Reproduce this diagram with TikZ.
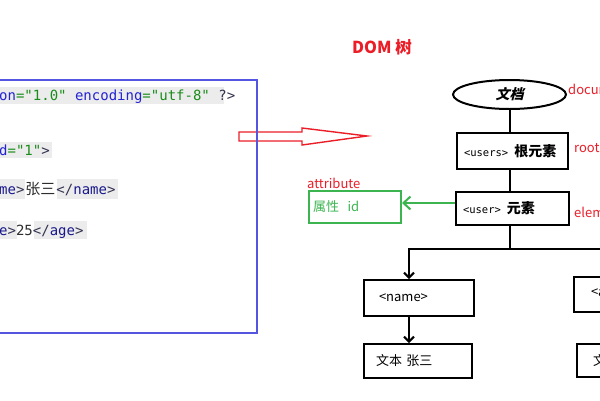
\documentclass[tikz,border=0pt]{standalone}
\usepackage{fontspec}
\setmainfont{Noto Sans CJK SC}
\newfontfamily\cjk{Noto Sans CJK SC}
\newfontfamily\cjkslant{Noto Sans CJK SC}[FakeSlant=0.25]
\newfontfamily\codefont{DejaVu Sans Mono}
\usetikzlibrary{shapes.geometric,arrows.meta}
\definecolor{xattr}{RGB}{35,35,210}
\definecolor{xval}{RGB}{25,140,25}
\definecolor{xtag}{RGB}{25,25,140}
\definecolor{xbrk}{RGB}{50,50,80}
\definecolor{xtxt}{RGB}{45,45,45}
\definecolor{xbg}{RGB}{236,236,236}
\definecolor{redc}{RGB}{235,30,40}
\definecolor{greenc}{RGB}{60,180,80}
\definecolor{bluec}{RGB}{85,85,225}
\newcommand{\fs}[1]{\fontsize{#1}{#1}\selectfont}
\begin{document}
\begin{tikzpicture}[x=1pt,y=-1pt,
  code/.style={inner sep=0, anchor=base west, font=\codefont\fs{14}, text=xtxt},
  tbox/.style={draw, line width=2, inner ysep=0, inner xsep=7, align=left},
  lbox/.style={draw, line width=2, inner ysep=0, align=left, font=\cjk\fs{13}},
  lbl/.style={inner sep=0, anchor=west, text=redc, font=\cjk\fs{13}},
  conn/.style={line width=2},
  arr/.style={line width=2, -{Straight Barb[length=5pt,width=10pt]}},
  garr/.style={line width=2, draw=greenc, -{Straight Barb[length=7pt,width=13pt]}}]
\clip (0,0) rectangle (600,400);
\fill[white] (0,0) rectangle (600,400);
% code highlights
\fill[xbg] (0,87) rectangle (224,104);
\fill[xbg] (0,142) rectangle (52,158);
\fill[xbg] (0,179) rectangle (25,199);
\fill[xbg] (57,179) rectangle (118,199);
\fill[xbg] (0,221) rectangle (17,239);
\fill[xbg] (34,221) rectangle (87,239);
% code text
\node[code] (l1) at (-1,100) {\textcolor{xattr}{on}\textcolor{xval}{="1.0"} \textcolor{xattr}{encoding}\textcolor{xval}{="utf-8"} \textcolor{xbrk}{?>}};
\node[code] (l2) at (-1,155) {\textcolor{xattr}{d}\textcolor{xval}{="1"}\textcolor{xbrk}{>}};
\node[code] (l3) at (-1,194.5) {\textcolor{xtag}{me}\textcolor{xbrk}{>}\kern1pt{\cjk\fs{15}张三}\kern1pt\textcolor{xbrk}{</}\textcolor{xtag}{name}\textcolor{xbrk}{>}};
\node[code] (l4) at (-1,235.5) {\textcolor{xtag}{e}\textcolor{xbrk}{>}25\textcolor{xbrk}{</}\textcolor{xtag}{age}\textcolor{xbrk}{>}};
% red hollow arrow
\draw[redc, line width=1.4, line join=miter] (239,132) -- (302,132) -- (302,128) -- (367,136) -- (302,145) -- (302,141) -- (239,141) -- cycle;
% blue frame
\draw[bluec, line width=2.5] (-5,80) rectangle (257,333);
% title
\node[inner sep=0, text=redc, font=\cjk\bfseries\fs{16.5}] (title) at (382,47) {DOM 树};
% tree
\node[ellipse, draw, line width=2, inner sep=0, minimum width=113, minimum height=29, font=\cjkslant\bfseries\fs{14}] (doc) at (509.5,94.5) {文档};
\node[tbox, text width=97, minimum height=36] (root) at (512.5,151) {{\codefont\fs{10.5}<users>}\hspace{6pt}{\cjk\bfseries\fs{14}根元素}};
\node[tbox, text width=99, minimum height=33] (user) at (512.5,208.5) {{\codefont\fs{10.5}<user>}\hspace{6pt}{\cjk\bfseries\fs{14}元素}};
\node[lbox, draw=greenc, text=greenc, text width=84, inner xsep=4, minimum height=32] (attr) at (355,207) {属性\ \ id};
\node[lbox, text width=80, inner xsep=15, minimum height=36] (name) at (419,298) {<name>};
\node[lbox, text width=84, inner xsep=12, minimum height=34] (t1) at (418,361) {文本 张三};
\node[lbox, text width=76, inner xsep=17, minimum height=35] (age) at (629,294.5) {<age>};
\node[lbox, text width=78, inner xsep=16, minimum height=33] (t2) at (632,360.5) {文本 25};
% labels
\node[lbl] (ldoc) at (568,89) {document};
\node[lbl] (lroot) at (574,148) {root};
\node[lbl] (lelem) at (574,212) {element};
\node[lbl] (lattr) at (307,183) {attribute};
% connectors
\coordinate (j) at (509.5,249);
\draw[conn] (doc.south) -- (doc.south |- root.north);
\draw[conn] (doc.south |- root.south) -- (doc.south |- user.north);
\draw[conn] (doc.south |- user.south) -- (j);
\draw[arr] (j) -| ([xshift=-10pt]name.north);
\draw[arr] (j) -| ([xshift=-10pt]age.north);
\draw[arr] ([xshift=-10pt]name.south) -- ([xshift=-10pt]name.south |- t1.north);
\draw[arr] ([xshift=-10pt]age.south) -- ([xshift=-10pt]age.south |- t2.north);
\draw[garr] ([yshift=5.5pt]user.west) -- ([yshift=5.5pt]user.west -| attr.east);
\end{tikzpicture}
\end{document}
